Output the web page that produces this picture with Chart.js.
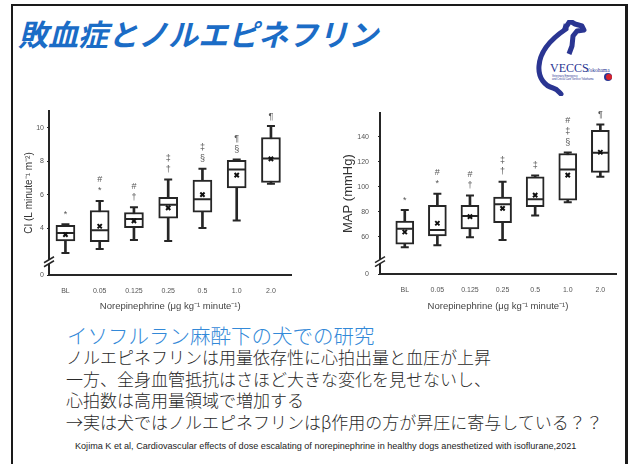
<!DOCTYPE html>
<html>
<head>
<meta charset="utf-8">
<script src="https://cdn.jsdelivr.net/npm/chart.js@4.4.1/dist/chart.umd.min.js"></script>
<style>
body { margin: 0; width: 630px; height: 464px; overflow: hidden; background: #fff; position: relative; font-family: "Noto Sans CJK JP", sans-serif; }
.frame { position: absolute; left: 11px; top: 4px; width: 612px; height: 480px; border: 2px solid #1a1a1a; border-right-width: 3px; }
h1 { position: absolute; left: 18px; top: 13px; margin: 0; font-size: 30px; font-weight: bold; font-style: italic; color: #1b6cc6; line-height: 40px; white-space: nowrap; }
.logo { position: absolute; left: 526px; top: 20px; }
.cv { position: absolute; }
.lead { position: absolute; left: 67px; top: 323px; font-size: 20.5px; font-weight: 300; line-height: 24px; color: #3389d8; white-space: nowrap; }
.body { position: absolute; left: 66px; top: 346px; font-size: 17px; font-weight: 300; line-height: 21.5px; color: #2a2a2a; white-space: nowrap; }
.cite { position: absolute; left: 75px; top: 441px; font-size: 9.1px; color: #222; white-space: nowrap; font-family: "Liberation Sans Narrow", "Liberation Sans", sans-serif; }
</style>
</head>
<body>
<div class="frame"></div>
<h1>敗血症とノルエピネフリン</h1>
<svg class="logo" width="96" height="76" viewBox="0 0 96 76">
  <path d="M40 7 L44 1 L49 4 L56 6 L58 10 L51 11 L47 16 L46 26 L43 34" fill="none" stroke="#2a3592" stroke-width="5" stroke-linejoin="round"/>
  <path d="M40 9 C28 17 14 30 13 46 C12 58 19 66 27 68 C31 69 33 72 35 74" fill="none" stroke="#2a3592" stroke-width="5" stroke-linecap="round"/>
  <path d="M42 10 L38 3 L36 10 Z" fill="#2a3592"/>
  <text x="24" y="52" font-family="Liberation Serif, serif" font-size="12" fill="#2a3592">VECCS</text>
  <text x="60" y="52" font-family="Liberation Serif, serif" font-size="5.5" fill="#2a3592">Yokohama</text>
  <text x="26" y="57" font-family="Liberation Sans, sans-serif" font-size="2.6" fill="#2a3592">Veterinary Emergency</text>
  <text x="26" y="60" font-family="Liberation Sans, sans-serif" font-size="2.6" fill="#2a3592">and Critical Care Service Yokohama</text>
  <circle cx="82" cy="57" r="4" fill="#2a3592"/>
  <circle cx="83" cy="57" r="3" fill="#d8242c"/>
</svg>

<canvas id="ciChart" class="cv" width="282" height="212" style="left:20px;top:100px"></canvas>
<canvas id="mapChart" class="cv" width="296" height="212" style="left:330px;top:100px"></canvas>

<div class="lead">イソフルラン麻酔下の犬での研究</div>
<div class="body">ノルエピネフリンは用量依存性に心拍出量と血圧が上昇<br>一方、全身血管抵抗はさほど大きな変化を見せないし、<br>心拍数は高用量領域で増加する<br>→実は犬ではノルエピネフリンはβ作用の方が昇圧に寄与している？？</div>
<div class="cite">Kojima K et al, Cardiovascular effects of dose escalating of norepinephrine in healthy dogs anesthetized with isoflurane,2021</div>

<script>
const doses = ["BL", "0.05", "0.125", "0.25", "0.5", "1.0", "2.0"];

// CI (L/min/m2)
const ciMin  = [2.53, 2.76, 3.30, 3.24, 4.02, 4.46, 6.65];
const ciQ1   = [3.24, 3.20, 4.04, 4.60, 4.96, 6.41, 6.73];
const ciMed  = [3.72, 3.88, 4.56, 5.41, 5.73, 7.51, 8.16];
const ciQ3   = [4.18, 5.06, 4.94, 5.85, 6.87, 8.06, 9.42];
const ciMax  = [4.24, 5.63, 5.25, 6.91, 7.55, 8.10, 10.10];
const ciMean = [3.62, 4.12, 4.44, 5.22, 6.01, 7.17, 8.14];
const ciMarks = [["*"], ["*", "#"], ["†", "#"], ["†", "‡"], ["§", "‡"], ["§", "¶"], ["¶"]];
const ciTicks = [4, 6, 8, 10];

// MAP (mmHg)
const mapMin  = [51.5, 53.0, 59.5, 57.3, 77.0, 87.5, 108.0];
const mapQ1   = [53.9, 60.5, 66.1, 71.2, 84.0, 89.3, 111.5];
const mapMed  = [66.4, 65.3, 76.5, 85.9, 89.9, 113.9, 127.2];
const mapQ3   = [72.5, 85.1, 85.1, 91.7, 108.0, 126.7, 145.3];
const mapMax  = [81.3, 94.4, 93.0, 104.0, 109.0, 127.5, 149.9];
const mapMean = [63.7, 70.7, 76.0, 82.7, 93.3, 109.3, 127.7];
const mapMarks = [["*"], ["*", "#"], ["†", "#"], ["†", "‡"], ["‡"], ["§", "‡", "#"], ["¶"]];
const mapTicks = [60, 80, 100, 120, 140];

const ink = "#262626";

// axis break marks + significance symbols
const extras = {
    id: "extras",
    afterDraw(chart, args, opts) {
        const { ctx, scales: { x, y } } = chart;
        const ax = y.right;
        const by = y.getPixelForValue(opts.brk);
        ctx.save();
        ctx.fillStyle = "#fff";
        ctx.fillRect(ax - 3, by - 2, 6, 4);
        ctx.strokeStyle = ink;
        ctx.lineWidth = 1.5;
        [-2, 2].forEach(d => {
            ctx.beginPath();
            ctx.moveTo(ax - 5, by + d + 3);
            ctx.lineTo(ax + 5, by + d - 3);
            ctx.stroke();
        });
        ctx.fillStyle = "#555";
        ctx.font = "9px 'Liberation Sans'";
        ctx.textAlign = "center";
        ctx.textBaseline = "middle";
        opts.marks.forEach((list, i) => {
            const px = x.getPixelForValue(i);
            let py = y.getPixelForValue(opts.top[i]) - 10;
            list.forEach(s => {
                ctx.fillText(s, px, py);
                py -= 11;
            });
        });
        ctx.restore();
    }
};

function boxChart(id, o) {
    const pts = arr => arr.map((v, i) => ({ x: i, y: v }));
    const spans = (a, b) => a.map((v, i) => ({ x: i, y: [v, b[i]] }));

    new Chart(document.getElementById(id), {
        type: "bar",
        data: {
            datasets: [
                { data: spans(o.min, o.max), backgroundColor: ink, barThickness: 2, grouped: false, order: 5 },
                { data: spans(o.q1, o.q3), backgroundColor: "#fff", borderColor: ink, borderWidth: 2,
                  borderSkipped: false, barThickness: o.boxW, grouped: false, order: 3 },
                { type: "scatter", data: [...pts(o.min), ...pts(o.max)], pointStyle: "line",
                  radius: 4, borderColor: ink, borderWidth: 2, order: 4 },
                { type: "scatter", data: pts(o.med), pointStyle: "line",
                  radius: o.boxW / 2 - 1, borderColor: ink, borderWidth: 2, order: 2 },
                { type: "scatter", data: pts(o.mean), pointStyle: "crossRot",
                  radius: 3, borderColor: "#111", borderWidth: 2, order: 1 }
            ]
        },
        options: {
            responsive: false,
            animation: false,
            events: [],
            layout: { padding: { top: o.padTop, right: 0, left: 0, bottom: 0 } },
            plugins: {
                legend: { display: false },
                tooltip: { enabled: false },
                extras: { brk: o.brk, marks: o.marks, top: o.max }
            },
            scales: {
                x: {
                    type: "linear",
                    min: o.xMin,
                    max: o.xMax,
                    offset: false,
                    afterBuildTicks: s => { s.ticks = doses.map((d, i) => ({ value: i })); },
                    afterFit: s => { s.height = o.xAxisH; },
                    ticks: {
                        callback: v => doses[v],
                        font: { family: "Liberation Sans", size: 7 },
                        color: "#555",
                        padding: 4,
                        maxRotation: 0
                    },
                    grid: { display: false },
                    border: { display: true, color: ink, width: 2 },
                    title: {
                        display: true,
                        text: "Norepinephrine (μg kg⁻¹ minute⁻¹)",
                        font: { family: "Liberation Sans", size: 9.5 },
                        color: "#444",
                        padding: { top: 5, bottom: 0 }
                    }
                },
                y: {
                    min: o.yMin,
                    max: o.yMax,
                    afterBuildTicks: s => { s.ticks = [o.yMin, ...o.ticks].map(v => ({ value: v })); },
                    afterFit: s => { s.width = o.yAxisW; },
                    ticks: {
                        callback: v => (v === o.yMin ? "0" : v),
                        font: { family: "Liberation Sans", size: 7 },
                        color: "#555",
                        padding: o.tickPad
                    },
                    grid: { drawOnChartArea: false, tickLength: 2, color: ink },
                    border: { display: true, color: ink, width: 2 },
                    title: {
                        display: true,
                        text: o.title,
                        font: { family: "Liberation Sans", size: o.titleSize },
                        color: "#333",
                        padding: { top: o.titlePad, bottom: 0 }
                    }
                }
            }
        },
        plugins: [extras]
    });
}

boxChart("ciChart", {
    min: ciMin, q1: ciQ1, med: ciMed, q3: ciQ3, max: ciMax, mean: ciMean,
    marks: ciMarks, ticks: ciTicks, title: "CI (L minute⁻¹ m⁻²)",
    yMin: 1.21, yMax: 11, brk: 2, xMin: -0.48, xMax: 6.6,
    boxW: 19, padTop: 11, xAxisH: 37, yAxisW: 29, tickPad: 3, titleSize: 10, titlePad: 3
});

boxChart("mapChart", {
    min: mapMin, q1: mapQ1, med: mapMed, q3: mapQ3, max: mapMax, mean: mapMean,
    marks: mapMarks, ticks: mapTicks, title: "MAP (mmHg)",
    yMin: 30, yMax: 159, brk: 40, xMin: -0.76, xMax: 6.48,
    boxW: 18, padTop: 12, xAxisH: 38, yAxisW: 50, tickPad: 9, titleSize: 13, titlePad: 11
});
</script>
</body>
</html>
